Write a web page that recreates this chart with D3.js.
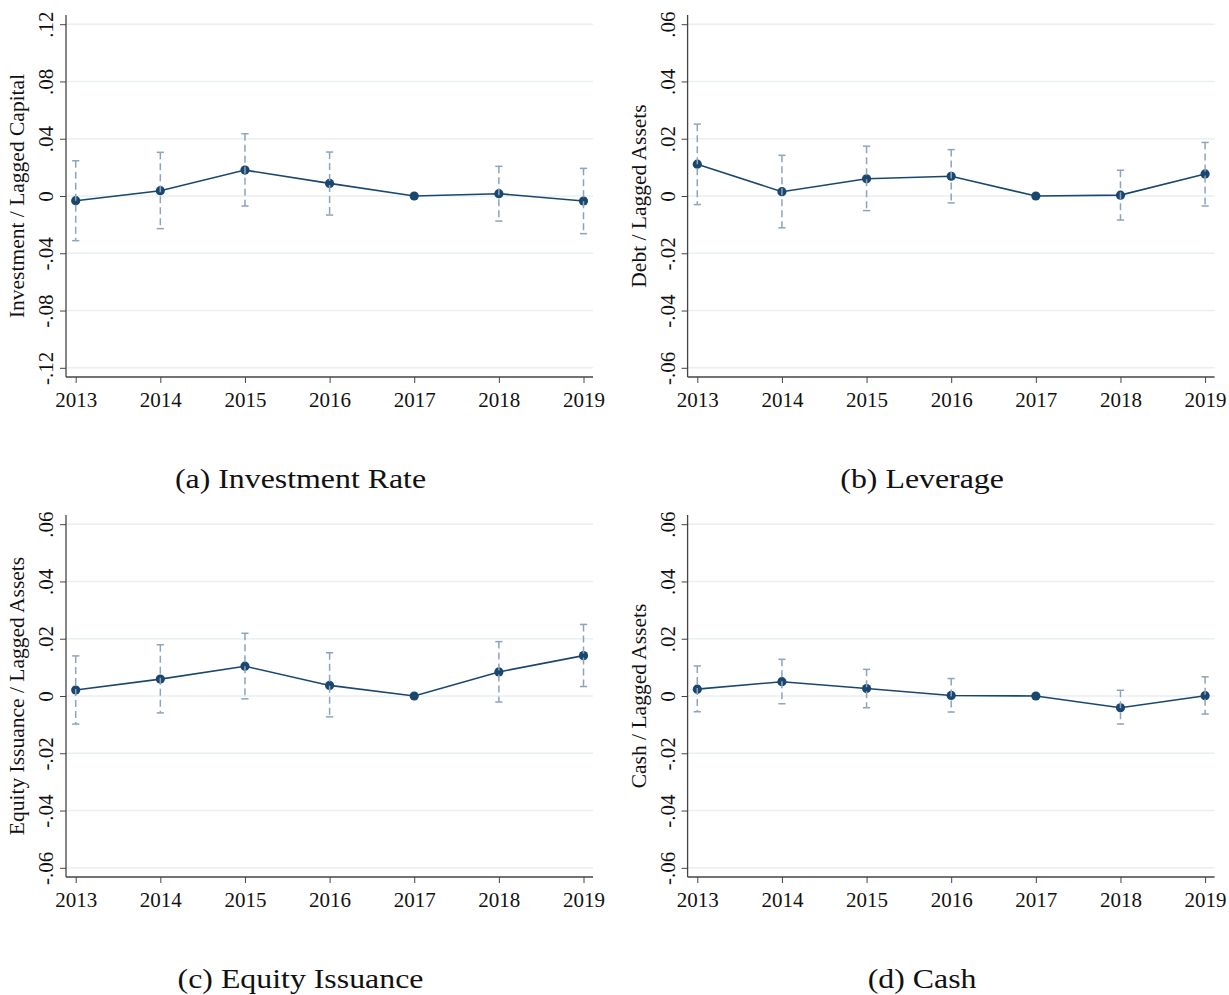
<!DOCTYPE html>
<html>
<head>
<meta charset="utf-8">
<script src="https://cdn.jsdelivr.net/npm/d3@7"></script>
<style>
  body { margin: 0; background: #fff; }
  text { font-family: "Liberation Serif", "Times New Roman", serif; fill: #111; }
</style>
</head>
<body>
<svg id="mainsvg" width="1229" height="995"></svg>
<script>
const years = [2013, 2014, 2015, 2016, 2017, 2018, 2019];

const yTicksWide = [-0.12, -0.08, -0.04, 0, 0.04, 0.08, 0.12];
const yTicksNarrow = [-0.06, -0.04, -0.02, 0, 0.02, 0.04, 0.06];

// point estimates and 95% bounds, 2017 is the base year
const investEst = [-0.0033, 0.0037, 0.0181, 0.0088, 0, 0.0016, -0.0035];
const investLo = [-0.0312, -0.0228, -0.0070, -0.0133, null, -0.0175, -0.0263];
const investHi = [0.0246, 0.0305, 0.0435, 0.0307, null, 0.0207, 0.0193];

const levEst = [0.0111, 0.0015, 0.0060, 0.0069, 0, 0.0003, 0.0077];
const levLo = [-0.0030, -0.0111, -0.0051, -0.0024, null, -0.0084, -0.0035];
const levHi = [0.0251, 0.0142, 0.0174, 0.0162, null, 0.0090, 0.0187];

const eqEst = [0.0021, 0.0059, 0.0104, 0.0037, 0, 0.0084, 0.0141];
const eqLo = [-0.0098, -0.0059, -0.0010, -0.0073, null, -0.0021, 0.0033];
const eqHi = [0.0140, 0.0179, 0.0219, 0.0151, null, 0.0190, 0.0250];

const cashEst = [0.0024, 0.0050, 0.0026, 0.0002, 0, -0.0041, 0.0001];
const cashLo = [-0.0055, -0.0027, -0.0041, -0.0056, null, -0.0098, -0.0063];
const cashHi = [0.0105, 0.0128, 0.0093, 0.0061, null, 0.0020, 0.0067];

const panels = [
  { ox: 0, oy: 0, ytitle: 'Investment / Lagged Capital', caption: '(a) Investment Rate', ticks: yTicksWide, est: investEst, lo: investLo, hi: investHi },
  { ox: 621.6, oy: 0, ytitle: 'Debt / Lagged Assets', caption: '(b) Leverage', ticks: yTicksNarrow, est: levEst, lo: levLo, hi: levHi },
  { ox: 0, oy: 500, ytitle: 'Equity Issuance / Lagged Assets', caption: '(c) Equity Issuance', ticks: yTicksNarrow, est: eqEst, lo: eqLo, hi: eqHi },
  { ox: 621.6, oy: 500, ytitle: 'Cash / Lagged Assets', caption: '(d) Cash', ticks: yTicksNarrow, est: cashEst, lo: cashLo, hi: cashHi }
];

const svg = d3.select('#mainsvg');
svg.append('rect').attr('width', 1229).attr('height', 995).attr('fill', '#fff');

const lineColor = '#1a476f';
const ciColor = '#8ea4bb';
const gridColor = '#e8f0f2';
const axisColor = '#444';

// layout inside one panel
const axX = 66, axY = 377, plotRight = 593, axTop = 15;

const fmt = d => d === 0 ? '0' : d.toFixed(2).replace('0.', '.');

panels.forEach(p => {
  const g = svg.append('g').attr('transform', `translate(${p.ox}, ${p.oy})`);

  const yScale = d3.scaleLinear()
    .domain([p.ticks[0], p.ticks[p.ticks.length - 1]])
    .range([367.8, 24.2]);
  const xScale = d3.scalePoint()
    .domain(years)
    .range([75.7, 583.5]);

  // grid
  g.selectAll('.grid').data(p.ticks).join('line').attr('class', 'grid')
    .attr('x1', axX).attr('x2', plotRight)
    .attr('y1', d => yScale(d)).attr('y2', d => yScale(d))
    .attr('stroke', gridColor).attr('stroke-width', 1.5);

  // y axis
  const yAxis = d3.axisLeft(yScale).tickValues(p.ticks).tickFormat(fmt).tickSize(6).tickSizeOuter(0);
  const yg = g.append('g').attr('transform', `translate(${axX}, 0)`).call(yAxis);
  yg.select('.domain').remove();
  yg.selectAll('line').attr('stroke', axisColor);
  yg.selectAll('text')
    .attr('x', null).attr('dy', null)
    .attr('transform', 'translate(-13, 0) rotate(-90)')
    .attr('text-anchor', 'middle')
    .style('font-size', '21px').style('font-family', '"Liberation Serif", serif').attr('fill', '#111');

  // x axis
  const xAxis = d3.axisBottom(xScale).tickSize(6).tickSizeOuter(0);
  const xg = g.append('g').attr('transform', `translate(0, ${axY})`).call(xAxis);
  xg.select('.domain').remove();
  xg.selectAll('line').attr('stroke', axisColor);
  xg.selectAll('text').attr('y', 30).attr('dy', null)
    .style('font-size', '21px').style('font-family', '"Liberation Serif", serif').attr('fill', '#111');

  // axis lines
  g.append('line').attr('x1', axX).attr('x2', axX).attr('y1', axTop).attr('y2', axY)
    .attr('stroke', axisColor).attr('stroke-width', 1.3);
  g.append('line').attr('x1', axX).attr('x2', plotRight).attr('y1', axY).attr('y2', axY)
    .attr('stroke', axisColor).attr('stroke-width', 1.3);

  // y title
  g.append('text')
    .attr('transform', `translate(24, ${(yScale.range()[0] + yScale.range()[1]) / 2}) rotate(-90)`)
    .attr('text-anchor', 'middle')
    .style('font-size', '21.5px')
    .text(p.ytitle);

  const pts = years.map((yr, i) => ({ yr, est: p.est[i], lo: p.lo[i], hi: p.hi[i] }));

  // connecting line
  g.append('path').datum(pts)
    .attr('d', d3.line().x(d => xScale(d.yr)).y(d => yScale(d.est)))
    .attr('fill', 'none').attr('stroke', lineColor).attr('stroke-width', 1.6);

  g.selectAll('.marker').data(pts).join('circle').attr('class', 'marker')
    .attr('cx', d => xScale(d.yr)).attr('cy', d => yScale(d.est))
    .attr('r', 4.6).attr('fill', lineColor);

  // confidence intervals with caps
  const ci = pts.filter(d => d.lo !== null);
  g.selectAll('.ci').data(ci).join('line').attr('class', 'ci')
    .attr('x1', d => xScale(d.yr)).attr('x2', d => xScale(d.yr))
    .attr('y1', d => yScale(d.hi)).attr('y2', d => yScale(d.lo))
    .attr('stroke', ciColor).attr('stroke-width', 1.5)
    .attr('stroke-dasharray', '7,4');
  ['hi', 'lo'].forEach(k => {
    g.selectAll('.cap' + k).data(ci).join('line').attr('class', 'cap' + k)
      .attr('x1', d => xScale(d.yr) - 3.6).attr('x2', d => xScale(d.yr) + 3.6)
      .attr('y1', d => yScale(d[k])).attr('y2', d => yScale(d[k]))
      .attr('stroke', ciColor).attr('stroke-width', 1.5);
  });

  // caption
  g.append('text')
    .attr('transform', `translate(300.5, 488) scale(1.18, 1)`)
    .attr('text-anchor', 'middle')
    .style('font-size', '27px')
    .text(p.caption);
});
</script>
</body>
</html>
